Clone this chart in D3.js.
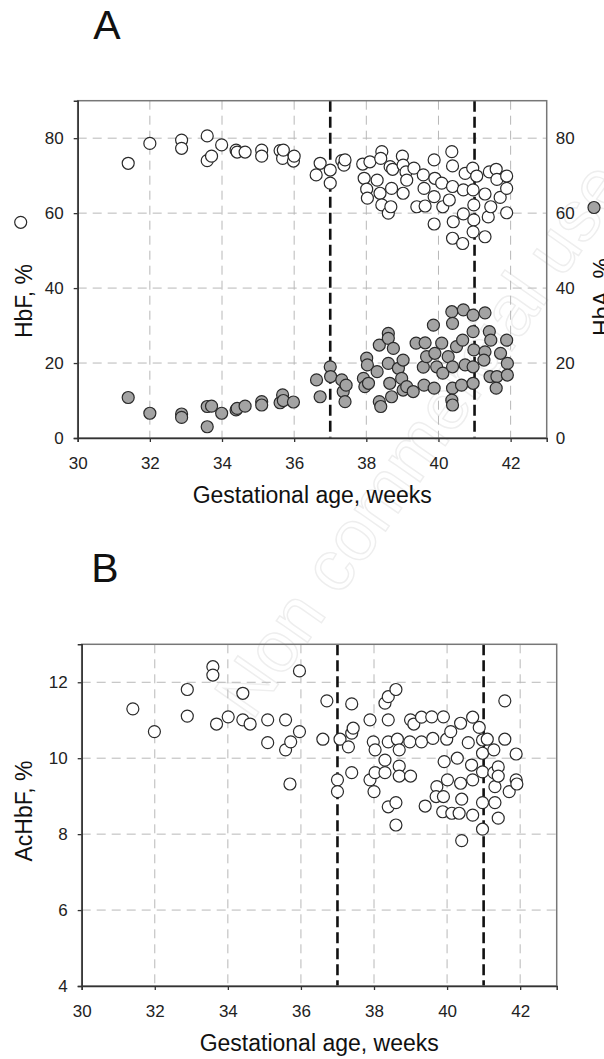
<!DOCTYPE html>
<html>
<head>
<meta charset="utf-8">
<script src="https://cdn.jsdelivr.net/npm/d3@7"></script>
<style>
  body { margin: 0; background: #fff; }
  svg { display: block; font-family: "Liberation Sans", Arial, sans-serif; }
</style>
</head>
<body>
<svg id="chart" width="604" height="1059"></svg>
<script>
// ---- data ----
// panel A, HbF (open circles)
var hbfWeeks = [31.40, 32.00, 32.88, 32.88, 33.59, 33.59, 33.71, 33.99, 34.39, 34.42, 34.64, 35.10, 35.10, 35.61, 35.68, 35.70, 35.98, 36.00,
  36.72, 36.61, 37.00, 37.00, 37.32, 37.38, 37.41, 37.90, 37.94, 38.01, 38.03, 38.10, 38.30, 38.43, 38.40, 38.38, 38.43, 38.61, 38.68,
  38.66, 38.73, 38.70, 39.00, 39.02, 39.02, 39.10, 39.12, 39.32, 39.40, 39.58, 39.60, 39.63, 39.88, 39.88, 39.88, 39.90, 40.09, 40.12,
  40.30, 40.37, 40.39, 40.39, 40.41, 40.39, 40.67, 40.69, 40.69, 40.74, 40.95, 40.96, 40.98, 40.98, 40.96, 41.06, 41.29, 41.29, 41.38,
  41.41, 41.45, 41.60, 41.62, 41.71, 41.89, 41.89, 41.89];
var hbfValues = [73.3, 78.6, 79.5, 77.3, 80.6, 74.0, 75.2, 78.2, 76.8, 76.3, 76.3, 76.8, 75.2, 76.7, 74.6, 76.8, 73.9, 75.2,
  73.3, 70.2, 71.5, 68.0, 74.0, 72.8, 74.2, 73.1, 69.3, 66.4, 64.0, 73.7, 68.8, 76.4, 74.6, 65.3, 62.2, 60.0, 61.7,
  72.4, 71.7, 66.6, 75.2, 72.8, 65.3, 71.0, 68.8, 72.0, 61.7, 70.2, 66.6, 61.9, 74.2, 64.4, 57.1, 69.3, 68.0, 61.7,
  63.5, 76.4, 72.6, 67.1, 57.7, 53.3, 51.9, 66.2, 59.8, 70.6, 72.0, 66.2, 62.2, 58.2, 55.0, 69.9, 65.1, 53.7, 59.0,
  71.0, 61.7, 71.7, 69.0, 64.2, 69.9, 66.6, 60.1];

// panel A, HbA (grey filled circles)
var hbaWeeks = [31.40, 32.00, 32.88, 32.88, 33.59, 33.71, 33.59, 33.99, 34.39, 34.42, 34.64, 35.10, 35.10, 35.61, 35.68, 35.70, 35.98,
  36.62, 36.72, 37.00, 37.01, 37.32, 37.36, 37.41, 37.44, 37.92, 37.96, 38.01, 38.03, 38.06, 38.30, 38.36, 38.40, 38.36, 38.61, 38.61,
  38.75, 38.65, 38.70, 38.61, 38.89, 39.02, 38.98, 39.02, 39.12, 39.30, 39.38, 39.58, 39.60, 39.63, 39.67, 39.86, 39.88, 39.90, 39.95,
  40.09, 40.12, 40.27, 40.37, 40.39, 40.39, 40.39, 40.37, 40.39, 40.50, 40.64, 40.69, 40.67, 40.74, 40.96, 40.96, 40.96, 40.96, 40.98,
  41.29, 41.29, 41.26, 41.41, 41.45, 41.43, 41.62, 41.60, 41.72, 41.89, 41.91, 41.91];
var hbaValues = [10.8, 6.6, 6.4, 5.5, 8.4, 8.5, 3.0, 6.6, 7.5, 7.9, 8.5, 9.7, 8.8, 9.4, 11.5, 10.0, 9.6,
  15.5, 11.0, 19.0, 16.4, 15.5, 12.4, 9.7, 14.1, 15.9, 13.7, 21.3, 19.5, 14.6, 17.7, 9.7, 8.4, 24.8, 27.9, 26.6,
  23.9, 14.6, 11.0, 19.9, 18.6, 20.8, 15.9, 12.8, 13.7, 12.4, 25.3, 18.9, 14.1, 25.4, 21.7, 30.1, 13.3, 22.6, 19.0,
  25.3, 17.3, 21.7, 33.7, 30.6, 19.0, 13.3, 10.1, 8.8, 24.4, 14.1, 34.2, 26.1, 19.5, 32.8, 28.4, 19.0, 14.6, 23.5,
  33.4, 23.0, 20.8, 28.4, 26.1, 16.4, 16.4, 13.3, 22.6, 26.1, 19.9, 16.8];

// panel B, AcHbF (open circles)
var achbfWeeks = [31.40, 31.99, 32.89, 32.89, 33.59, 33.59, 33.69, 34.01, 34.41, 34.41, 34.61, 35.09, 35.09, 35.58, 35.58, 35.72, 35.70,
  35.96, 35.96, 36.60, 36.71, 37.00, 37.00, 37.07, 37.30, 37.39, 37.39, 37.43, 37.39, 37.89, 37.89, 37.98, 38.00, 38.03, 38.03,
  38.30, 38.39, 38.39, 38.39, 38.30, 38.30, 38.39, 38.60, 38.60, 38.60, 38.64, 38.69, 38.69, 38.69, 39.00, 38.98, 39.00, 39.09,
  39.30, 39.30, 39.40, 39.58, 39.61, 39.72, 39.70, 39.90, 39.92, 39.90, 39.88, 39.99, 40.01, 40.10, 40.13, 40.28, 40.37, 40.40,
  40.37, 40.33, 40.40, 40.58, 40.67, 40.70, 40.70, 40.70, 40.88, 40.97, 40.97, 40.97, 40.97, 40.97, 41.10, 41.28, 41.28, 41.31,
  41.31, 41.40, 41.40, 41.40, 41.58, 41.58, 41.70, 41.89, 41.89, 41.91];
var achbfValues = [11.30, 10.70, 11.81, 11.11, 12.41, 12.19, 10.90, 11.09, 11.71, 11.01, 10.90, 11.01, 10.41, 11.01, 10.22, 10.43, 9.32,
  12.30, 10.70, 10.50, 11.51, 9.43, 9.12, 10.50, 10.30, 11.43, 10.66, 10.79, 9.62, 11.01, 9.43, 10.43, 9.12, 10.22, 9.62,
  11.45, 11.62, 11.01, 10.43, 9.95, 9.62, 8.72, 11.81, 8.83, 8.24, 10.50, 10.22, 9.79, 9.53, 9.53, 10.43, 11.01, 10.90,
  11.08, 10.43, 8.74, 11.09, 10.52, 9.25, 8.99, 11.09, 9.91, 8.99, 8.59, 10.50, 9.43, 10.70, 8.55, 10.00, 9.34, 8.92,
  10.92, 8.55, 7.83, 10.41, 9.82, 11.08, 9.43, 8.50, 10.81, 10.48, 10.13, 9.64, 8.83, 8.13, 10.50, 10.22, 9.62, 9.25,
  8.83, 9.77, 9.53, 8.42, 11.51, 10.50, 9.12, 10.11, 9.43, 9.32];

var xTicks = [30, 32, 34, 36, 38, 40, 42];
var yTicksA = [0, 20, 40, 60, 80];
var yTicksB = [4, 6, 8, 10, 12];
var termLines = [37, 41]; // term boundaries (dashed black)

var svg = d3.select("#chart");

// faint watermark behind everything
svg.append("text")
  .attr("transform", "translate(252,722) rotate(-55)")
  .attr("font-size", 72)
  .attr("fill", "none")
  .attr("stroke", "#eeeeee")
  .attr("stroke-width", 1.4)
  .text("Non commercial use");

function drawPanel(p) {
  var x = d3.scaleLinear().domain([30, 43]).range([p.left, p.right]);
  var y = d3.scaleLinear().domain(p.yDomain).range([p.bottom, p.top]);
  var g = svg.append("g");

  // grid
  g.selectAll(".vgrid").data(xTicks.filter(d => d > 30)).enter().append("line")
    .attr("x1", d => x(d)).attr("x2", d => x(d))
    .attr("y1", p.top).attr("y2", p.bottom)
    .attr("stroke", "#b8b8b8").attr("stroke-width", 1).attr("stroke-dasharray", "9,6");
  g.selectAll(".hgrid").data(p.yTicks.slice(1)).enter().append("line")
    .attr("x1", p.left).attr("x2", p.right)
    .attr("y1", d => y(d)).attr("y2", d => y(d))
    .attr("stroke", "#b8b8b8").attr("stroke-width", 1).attr("stroke-dasharray", "9,6");

  // term boundaries
  g.selectAll(".term").data(termLines).enter().append("line")
    .attr("x1", d => x(d)).attr("x2", d => x(d))
    .attr("y1", p.top).attr("y2", p.bottom)
    .attr("stroke", "#111").attr("stroke-width", 2.6).attr("stroke-dasharray", "11,5");

  // points
  p.series.forEach(function (s) {
    g.selectAll(null).data(d3.range(s.xs.length)).enter().append("circle")
      .attr("cx", i => x(s.xs[i]))
      .attr("cy", i => y(s.ys[i]))
      .attr("r", 6)
      .attr("fill", s.fill)
      .attr("stroke", "#2a2a2a")
      .attr("stroke-width", 1.2);
  });

  // frame
  g.append("rect")
    .attr("x", p.left).attr("y", p.top)
    .attr("width", p.right - p.left).attr("height", p.bottom - p.top)
    .attr("fill", "none").attr("stroke", "#777").attr("stroke-width", 1.5);

  // axes
  var ax = g.append("g").attr("transform", "translate(0," + p.bottom + ")")
    .call(d3.axisBottom(x).tickValues(xTicks).tickSize(4).tickPadding(15));
  var ay = g.append("g").attr("transform", "translate(" + p.left + ",0)")
    .call(d3.axisLeft(y).tickValues(p.yTicks).tickSize(4).tickPadding(10));
  [ax, ay].forEach(function (a) {
    a.select(".domain").attr("stroke", "#333").attr("stroke-width", 1.5);
    a.selectAll(".tick line").attr("stroke", "#333").attr("stroke-width", 1.3);
    a.selectAll("text").attr("font-size", 17).attr("fill", "#222")
      .attr("font-family", "'Liberation Sans', Arial, sans-serif");
  });
  if (p.rightAxis) {
    var ar = g.append("g").attr("transform", "translate(" + p.right + ",0)")
      .call(d3.axisRight(y).tickValues(p.yTicks).tickSize(0).tickPadding(9));
    ar.select(".domain").remove();
    ar.selectAll("text").attr("font-size", 17).attr("fill", "#222")
      .attr("font-family", "'Liberation Sans', Arial, sans-serif");
  }

  // titles
  svg.append("text").attr("x", (p.left + p.right) / 2).attr("y", p.bottom + 65)
    .attr("text-anchor", "middle").attr("font-size", 23).attr("fill", "#111")
    .text("Gestational age, weeks");
  svg.append("text").attr("transform", "translate(" + p.yLabelPos + ") rotate(-90)")
    .attr("text-anchor", "middle").attr("font-size", 23).attr("fill", "#111")
    .text(p.yLabel);
  svg.append("text").attr("x", p.letterPos[0]).attr("y", p.letterPos[1])
    .attr("text-anchor", "middle").attr("font-size", 41).attr("fill", "#111")
    .text(p.letter);
  return { x: x, y: y };
}

drawPanel({
  left: 77.7, right: 546.7, top: 100.7, bottom: 438,
  yDomain: [0, 90], yTicks: yTicksA, rightAxis: true,
  series: [
    { xs: hbfWeeks, ys: hbfValues, fill: "#fff" },
    { xs: hbaWeeks, ys: hbaValues, fill: "#a3a3a3" }
  ],
  yLabel: "HbF, %", yLabelPos: "31.5,301",
  letter: "A", letterPos: [107, 39]
});

// right-hand label for HbA (runs off the page edge, as in the original)
svg.append("text").attr("transform", "translate(610,297) rotate(-90)")
  .attr("text-anchor", "middle").attr("font-size", 23).attr("fill", "#111")
  .text("HbA, %");

// legend symbols next to the y labels
svg.append("circle").attr("cx", 20.7).attr("cy", 222.3).attr("r", 6)
  .attr("fill", "#fff").attr("stroke", "#2a2a2a").attr("stroke-width", 1.2);
svg.append("circle").attr("cx", 594).attr("cy", 207.5).attr("r", 6)
  .attr("fill", "#a3a3a3").attr("stroke", "#2a2a2a").attr("stroke-width", 1.2);

drawPanel({
  left: 81.7, right: 556.7, top: 644.3, bottom: 986,
  yDomain: [4, 13], yTicks: yTicksB, rightAxis: false,
  series: [
    { xs: achbfWeeks, ys: achbfValues, fill: "#fff" }
  ],
  yLabel: "AcHbF, %", yLabelPos: "32,811",
  letter: "B", letterPos: [105, 582]
});
</script>
</body>
</html>
